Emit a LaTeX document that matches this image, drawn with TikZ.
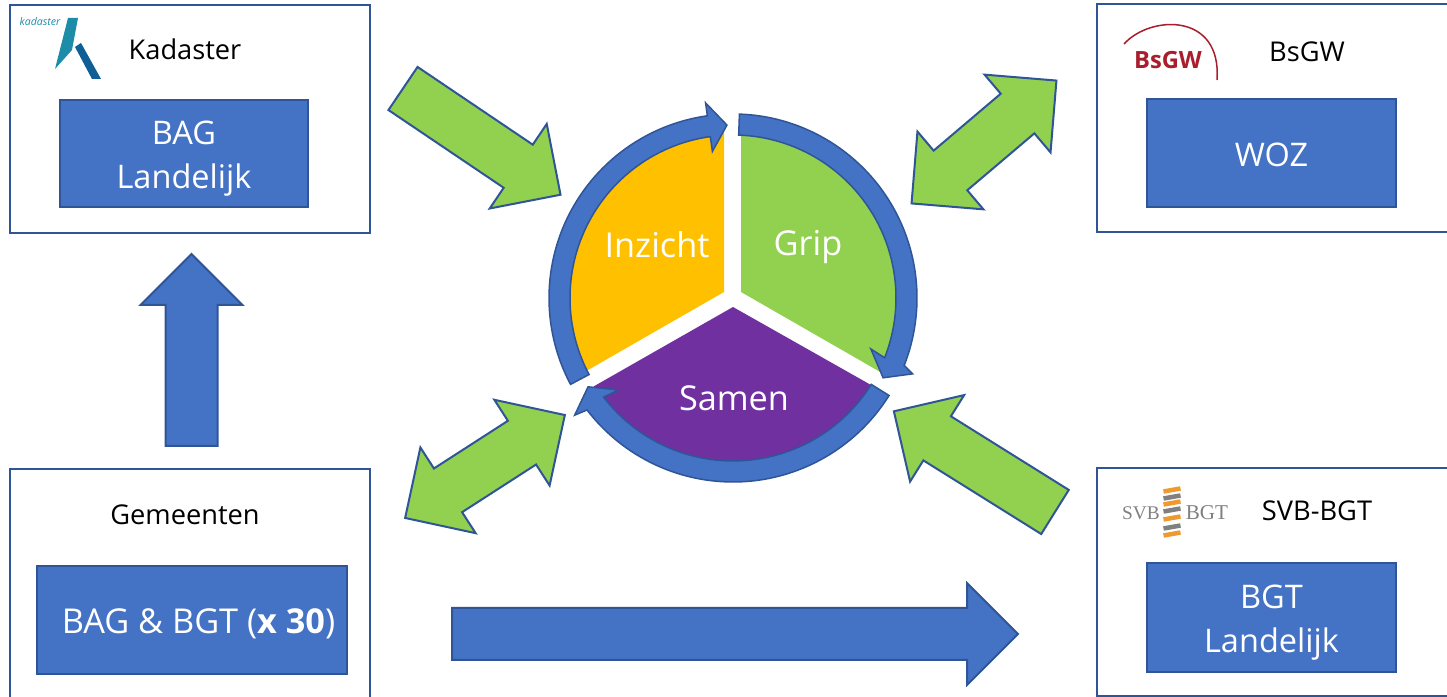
\documentclass[tikz,border=0pt]{standalone}
\usepackage{fontspec}
\setmainfont{Open Sans}
\usepackage{xcolor}
\usepackage{tikz}
\usetikzlibrary{shapes.arrows}
\definecolor{ringblue}{HTML}{4472C4}
\definecolor{edgeblue}{HTML}{2F5597}
\definecolor{leafgreen}{HTML}{92D050}
\definecolor{sunyellow}{HTML}{FFC000}
\definecolor{deeppurple}{HTML}{7030A0}
\definecolor{kadteal}{HTML}{1C8CA8}
\definecolor{kadblue}{HTML}{0F5F96}
\definecolor{bsgwred}{HTML}{A91E2C}
\definecolor{svborange}{HTML}{EE9A2E}
\definecolor{svbgray}{HTML}{808080}
\newcommand{\lowered}[2]{\raisebox{-#1}[\height][\depth]{#2}}
\tikzstyle{frame} = [draw=edgeblue,line width=0.04cm,fill=white,minimum width=7.2cm,minimum height=4.56cm,outer sep=0]
\tikzstyle{title} = [font=\fontsize{15.5}{19}\selectfont,inner sep=0]
\tikzstyle{register} = [draw=edgeblue,line width=0.04cm,fill=ringblue,text=white,align=center,inner sep=0,outer sep=0,font=\fontsize{18.5}{25}\selectfont]
\tikzstyle{part} = [text=white,inner sep=0,font=\fontsize{19.5}{24}\selectfont]
\tikzstyle{flow} = [draw=edgeblue,line width=0.04cm,outer sep=0,inner xsep=0,inner ysep=0.5cm]
\tikzstyle{greenflow} = [flow,fill=leafgreen,single arrow,single arrow head extend=0.5cm,minimum height=3.8cm,anchor=tail]
\tikzstyle{greenboth} = [flow,fill=leafgreen,double arrow,double arrow head extend=0.5cm,minimum height=3.8cm]
\tikzstyle{blueflow} = [flow,fill=ringblue,single arrow,single arrow head extend=0.5cm,anchor=tail]
\tikzstyle{ringpart} = [draw=edgeblue,line width=0.03cm,fill=ringblue]
\tikzstyle{svblabel} = [text=svbgray,inner sep=0,font=\fontsize{11}{13}\selectfont]
\begin{document}
\begin{tikzpicture}
    \clip (0,0) rectangle (28.94,13.94);

    % boxes
    \node[frame] (kadaster) at (3.8,11.56) {};
    \node[frame, minimum width=7.16cm] (bsgw) at (25.52,11.58) {};
    \node[frame, minimum width=7.16cm] (svb) at (25.52,2.30) {};
    \node[frame, minimum height=4.72cm] (gemeenten) at (3.8,2.2) {};

    \node[register, minimum width=4.96cm, minimum height=2.14cm] (bag) at (3.68,10.87) {\lowered{0.11cm}{BAG}\\\lowered{0.11cm}{Landelijk}};
    \node[register, minimum width=4.98cm, minimum height=2.16cm] (woz) at (25.43,10.88) {\lowered{0.04cm}{WOZ}};
    \node[register, minimum width=4.98cm, minimum height=2.18cm] (bgt) at (25.43,1.59) {\lowered{0.11cm}{BGT}\\\lowered{0.11cm}{Landelijk}};
    \node[register, minimum width=6.2cm, minimum height=2.16cm, font=\fontsize{19.5}{25}\selectfont] (bagbgt) at (3.84,1.54) {\hspace{0.26cm}\lowered{0.08cm}{BAG \& BGT (\textbf{x 30})}};

    \node[title] (kadastertitle) at (3.70,12.96) {Kadaster};
    \node[title] (bsgwtitle) at (26.14,12.9) {BsGW};
    \node[title] (svbtitle) at (26.34,3.72) {SVB-BGT};
    \node[title] (gemeententitle) at (3.70,3.64) {Gemeenten};

    % logos
    \node[text=kadteal, inner sep=0, font=\fontsize{6}{7}\selectfont\itshape] (kadasterlogo) at (0.8,13.5) {kadaster};
    \fill[kadteal] (1.36,13.58) -- (1.56,13.58) -- (1.44,12.94) -- (1.10,12.56) -- cycle;
    \fill[kadblue] (1.50,13.00) -- (1.62,13.08) -- (2.02,12.36) -- (1.84,12.36) -- cycle;

    \node[text=bsgwred, inner sep=0, font=\fontsize{13.5}{15}\selectfont\bfseries] (bsgwlogo) at (23.36,12.74) {BsGW};
    \draw[bsgwred, line width=0.03cm] (22.48,13.06) .. controls (23.0,13.64) and (24.44,13.7) .. (24.34,12.34);

    \node[svblabel] (svbleft) at (22.82,3.68) {\fontspec{Liberation Serif}SVB};
    \node[svblabel, font=\fontsize{12}{14}\selectfont] (svbright) at (24.14,3.68) {\fontspec{Liberation Serif}BGT};
    \draw[svborange, line width=0.09cm] (23.27,4.11) -- (23.61,4.17);
    \draw[svbgray, line width=0.09cm] (23.27,3.97) -- (23.61,4.03);
    \draw[svborange, line width=0.09cm] (23.27,3.85) -- (23.61,3.91);
    \draw[svbgray, line width=0.09cm] (23.27,3.71) -- (23.61,3.77);
    \draw[svborange, line width=0.09cm] (23.27,3.55) -- (23.61,3.61);
    \draw[svbgray, line width=0.09cm] (23.27,3.37) -- (23.61,3.43);
    \draw[svborange, line width=0.09cm] (23.27,3.23) -- (23.61,3.29);

    % big arrows
    \node[greenflow, rotate=-34] (toinzicht) at (8.06,12.17) {};
    \node[greenflow, rotate=148] (fromsvb) at (21.10,3.70) {};
    \node[greenboth, rotate=32.8] (togemeenten) at (9.70,4.61) {};
    \node[greenboth, rotate=40.3] (tobsgw) at (19.68,11.10) {};
    \node[blueflow, rotate=90, minimum height=3.84cm] (upflow) at (3.83,5.02) {};
    \node[blueflow, minimum height=11.32cm] (rightflow) at (9.04,1.26) {};

    % wheel
    \begin{scope}[shift={(14.66,7.98)}]
        \fill[sunyellow] (-0.18,0.12) -- (93.1:3.32) arc (93.1:206.5:3.32) -- cycle;
        \fill[leafgreen] (0.16,0.12) -- (87.2:3.32) arc (87.2:-26.7:3.32) -- cycle;
        \fill[deeppurple] (0,-0.18) -- (-32.2:3.3) arc (-32.2:-147.6:3.3) -- cycle;

        \draw[ringpart] (208:3.68) arc (208:98:3.68) -- (98:3.94) -- (92:3.46) -- (98:2.96) -- (98:3.26) arc (98:208:3.26) -- cycle;
        \draw[ringpart] (88:3.68) arc (88:-21.5:3.68) -- (-22.9:3.9) -- (-28:3.40) -- (-20.3:2.94) -- (-21.5:3.26) arc (-21.5:88:3.26) -- cycle;
        \draw[ringpart] (-32:3.68) arc (-32:-142.5:3.68) -- (-143.5:3.94) -- (-148.5:3.40) -- (-141.3:2.94) -- (-142.5:3.26) arc (-142.5:-32:3.26) -- cycle;
    \end{scope}

    \node[part] (inzicht) at (13.14,9.04) {Inzicht};
    \node[part] (grip) at (16.16,9.0) {Grip};
    \node[part] (samen) at (14.68,5.98) {Samen};
\end{tikzpicture}
\end{document}
